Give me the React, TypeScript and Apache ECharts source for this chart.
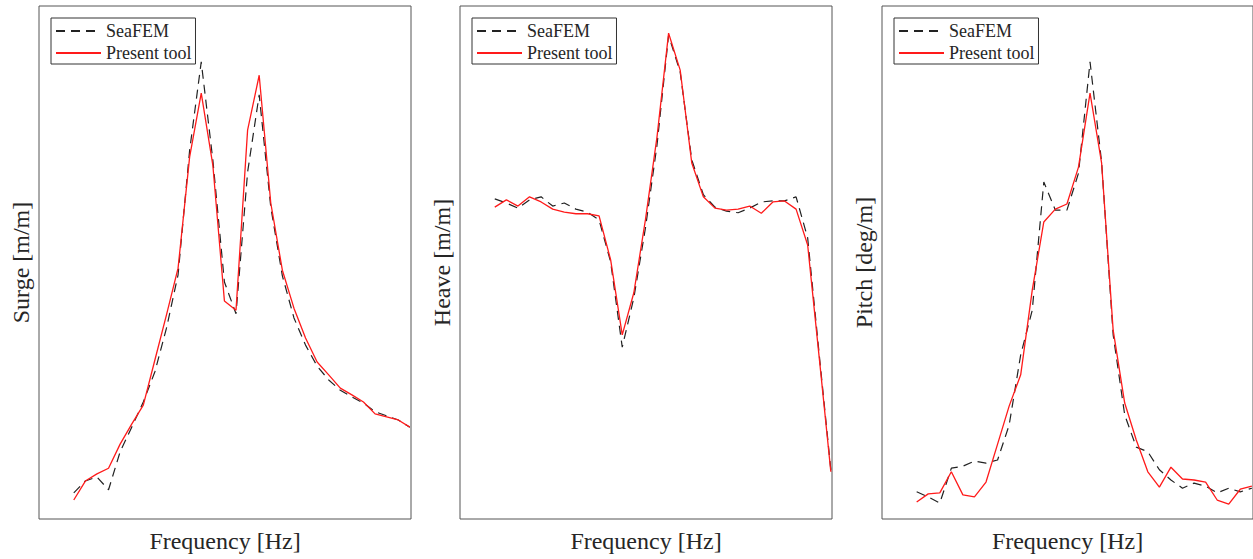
import React, { useEffect, useRef } from "react";
import * as echarts from "echarts";

// Frequency samples [Hz]
const FREQ = [
  0.03, 0.04, 0.05, 0.06, 0.07, 0.08, 0.09, 0.1, 0.11, 0.12,
  0.13, 0.14, 0.15, 0.16, 0.17, 0.18, 0.19, 0.2, 0.21, 0.22,
  0.23, 0.24, 0.25, 0.26, 0.27, 0.28, 0.29, 0.3, 0.31, 0.32,
];

const PANEL_TITLES = ["Surge [m/m]", "Heave [m/m]", "Pitch [deg/m]"];
const X_TITLE = "Frequency [Hz]";
const LEGEND_NAMES = ["SeaFEM", "Present tool"];

// Surge RAO (normalised)
const SURGE_SEAFEM = [
  0.051, 0.074, 0.082, 0.057, 0.131, 0.179, 0.228, 0.287, 0.372, 0.476,
  0.719, 0.891, 0.7, 0.462, 0.4, 0.676, 0.827, 0.608, 0.474, 0.392,
  0.339, 0.298, 0.271, 0.251, 0.238, 0.226, 0.209, 0.201, 0.193, 0.179,
];
const SURGE_PRESENT = [
  0.037, 0.074, 0.088, 0.099, 0.146, 0.185, 0.222, 0.31, 0.398, 0.489,
  0.706, 0.83, 0.69, 0.425, 0.407, 0.758, 0.865, 0.616, 0.485, 0.411,
  0.353, 0.306, 0.281, 0.255, 0.242, 0.228, 0.205, 0.199, 0.193, 0.179,
];

// Heave RAO (normalised)
const HEAVE_SEAFEM = [
  0.624, 0.616, 0.606, 0.622, 0.628, 0.61, 0.616, 0.604, 0.598, 0.583,
  0.501, 0.335, 0.431, 0.567, 0.729, 0.943, 0.871, 0.7, 0.632, 0.608,
  0.6, 0.597, 0.606, 0.618, 0.62, 0.62, 0.628, 0.548, 0.32, 0.096,
];
const HEAVE_PRESENT = [
  0.608, 0.622, 0.61, 0.628, 0.618, 0.604, 0.598, 0.595, 0.595, 0.591,
  0.505, 0.359, 0.441, 0.583, 0.745, 0.947, 0.875, 0.694, 0.628, 0.606,
  0.602, 0.604, 0.61, 0.596, 0.618, 0.62, 0.604, 0.534, 0.314, 0.092,
];

// Pitch RAO (normalised)
const PITCH_SEAFEM = [
  0.053, 0.043, 0.031, 0.099, 0.103, 0.113, 0.109, 0.115, 0.183, 0.32,
  0.407, 0.657, 0.602, 0.602, 0.674, 0.891, 0.696, 0.359, 0.203, 0.14,
  0.131, 0.096, 0.076, 0.06, 0.07, 0.064, 0.051, 0.06, 0.053, 0.06,
];
const PITCH_PRESENT = [
  0.033, 0.049, 0.051, 0.092, 0.047, 0.043, 0.072, 0.146, 0.22, 0.281,
  0.446, 0.579, 0.604, 0.614, 0.686, 0.83, 0.694, 0.368, 0.226, 0.154,
  0.092, 0.062, 0.101, 0.078, 0.076, 0.072, 0.037, 0.029, 0.058, 0.064,
];

const SEAFEM = [SURGE_SEAFEM, HEAVE_SEAFEM, PITCH_SEAFEM];
const PRESENT = [SURGE_PRESENT, HEAVE_PRESENT, PITCH_PRESENT];

const FONT = "'Liberation Serif', 'Times New Roman', serif";
const GRID_LEFT = [39, 460, 882];

export default function App() {
  const ref = useRef<HTMLDivElement>(null);
  useEffect(() => {
    if (!ref.current) return;
    const chart = echarts.init(ref.current, null, { renderer: "svg" });
    const grids = GRID_LEFT.map((l) => ({
      left: l,
      top: 6,
      width: 372,
      height: 513,
      show: true,
      borderColor: "#555",
      borderWidth: 1,
      backgroundColor: "transparent",
    }));
    const xAxes = GRID_LEFT.map((_, i) => ({
      type: "value",
      gridIndex: i,
      min: 0,
      max: 0.321,
      axisLine: { show: false },
      axisTick: { show: false },
      axisLabel: { show: false },
      splitLine: { show: false },
      name: X_TITLE,
      nameLocation: "middle",
      nameGap: 10,
      nameTextStyle: { fontFamily: FONT, fontSize: 24, color: "#262626" },
    }));
    const yAxes = GRID_LEFT.map((_, i) => ({
      type: "value",
      gridIndex: i,
      min: 0,
      max: 1,
      axisLine: { show: false },
      axisTick: { show: false },
      axisLabel: { show: false },
      splitLine: { show: false },
      name: PANEL_TITLES[i],
      nameLocation: "middle",
      nameRotate: 90,
      nameGap: 6,
      nameTextStyle: { fontFamily: FONT, fontSize: 24, color: "#262626" },
    }));
    const series: any[] = [];
    GRID_LEFT.forEach((_, i) => {
      series.push({
        type: "line",
        name: LEGEND_NAMES[0],
        xAxisIndex: i,
        yAxisIndex: i,
        symbol: "none",
        data: FREQ.map((f, j) => [f, SEAFEM[i][j]]),
        lineStyle: { color: "#222", width: 1.2, type: [9, 6] },
        itemStyle: { color: "#222" },
        z: 2,
      });
      series.push({
        type: "line",
        name: LEGEND_NAMES[1],
        xAxisIndex: i,
        yAxisIndex: i,
        symbol: "none",
        data: FREQ.map((f, j) => [f, PRESENT[i][j]]),
        lineStyle: { color: "#ff1a1a", width: 1.3 },
        itemStyle: { color: "#ff1a1a" },
        z: 3,
      });
    });
    const legends = GRID_LEFT.map((l) => ({
      data: LEGEND_NAMES,
      orient: "vertical",
      left: l + 12,
      top: 18,
      itemWidth: 45,
      itemHeight: 14,
      itemGap: 2,
      padding: [3, 4, 1, 4],
      borderColor: "#333",
      borderWidth: 1,
      backgroundColor: "#fff",
      selectedMode: false,
      itemStyle: { opacity: 0 },
      textStyle: { fontFamily: FONT, fontSize: 18, color: "#262626", lineHeight: 20 },
    }));
    chart.setOption({
      animation: false,
      backgroundColor: "#fff",
      grid: grids,
      xAxis: xAxes,
      yAxis: yAxes,
      legend: legends,
      series,
    });
    return () => chart.dispose();
  }, []);
  return (
    <div
      ref={ref}
      style={{ position: "fixed", left: 0, top: 0, width: 1253, height: 559 }}
    />
  );
}
